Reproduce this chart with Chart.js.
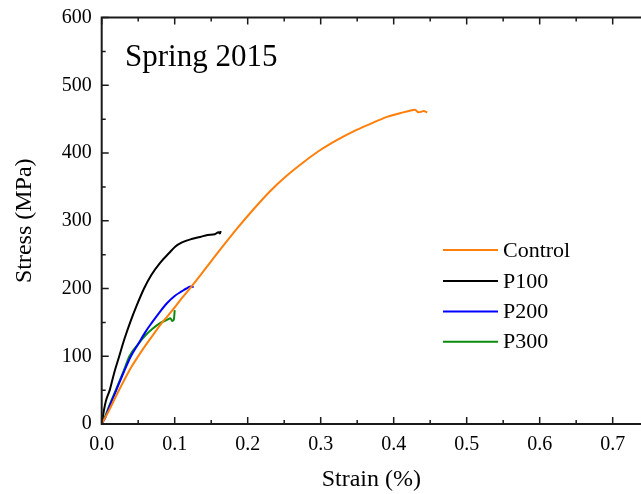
<!DOCTYPE html>
<html><head><meta charset="utf-8">
<script src="https://cdn.jsdelivr.net/npm/chart.js@4/dist/chart.umd.min.js"></script>
<style>html,body{margin:0;padding:0;background:#fff}</style>
</head><body>
<canvas id="c" width="641" height="494"></canvas>
<script>
// ---- data ----
const xTickValues = [0, 0.1, 0.2, 0.3, 0.4, 0.5, 0.6, 0.7];
const xTickLabels = ['0.0', '0.1', '0.2', '0.3', '0.4', '0.5', '0.6', '0.7'];
const yTickValues = [0, 100, 200, 300, 400, 500, 600];
const seriesNames = ['Control', 'P100', 'P200', 'P300'];

const controlStrain = [0, 0.01, 0.02, 0.03, 0.04, 0.05, 0.06, 0.07, 0.08, 0.09, 0.1, 0.11, 0.12, 0.139, 0.162, 0.185, 0.208, 0.231, 0.253, 0.276, 0.299, 0.322, 0.345, 0.368, 0.39, 0.413, 0.425, 0.429, 0.434, 0.438, 0.441, 0.446];
const controlStress = [0, 20, 42, 63, 83, 100, 116, 131, 146, 159, 172, 186, 199, 225, 257, 288, 317, 344, 366, 386, 404, 419, 432, 443, 453, 460, 463, 464, 460, 461, 462, 460];

const p100Strain = [0, 0.003, 0.006, 0.011, 0.017, 0.024, 0.031, 0.039, 0.048, 0.058, 0.068, 0.08, 0.092, 0.101, 0.11, 0.123, 0.135, 0.145, 0.155, 0.16, 0.162, 0.163];
const p100Stress = [0, 20, 35, 50, 75, 100, 125, 150, 175, 200, 220, 238, 252, 262, 268, 273, 276, 279, 280, 283, 281, 285];

const p200Strain = [0, 0.005, 0.01, 0.02, 0.03, 0.04, 0.05, 0.06, 0.069, 0.08, 0.09, 0.1, 0.11, 0.116, 0.122, 0.126];
const p200Stress = [0, 10, 24, 50, 76, 100, 118, 136, 150, 166, 179, 189, 196, 200, 203, 202];

const p300Strain = [0, 0.005, 0.01, 0.02, 0.03, 0.038, 0.05, 0.06, 0.07, 0.08, 0.09, 0.094, 0.097, 0.099, 0.1];
const p300Stress = [0, 12, 26, 52, 78, 100, 118, 131, 141, 149, 154, 156, 152, 155, 168];

const colors = ['#FF7F0A', '#000000', '#0000FF', '#0B8A0B'];

function pts(xs, ys) { return xs.map((x, i) => ({x: x, y: ys[i]})); }

const SERIF = "'Liberation Serif', 'Times New Roman', serif";

const framePlugin = {
  id: 'frame',
  afterDatasetsDraw(chart) {
    const {ctx, chartArea: a, scales: {x, y}} = chart;
    ctx.save();
    ctx.strokeStyle = '#1a1a1a';
    ctx.lineWidth = 1.5;
    ctx.beginPath();
    const majX = xTickValues, majY = yTickValues;
    majX.forEach((v) => {
      const px = x.getPixelForValue(v);
      ctx.moveTo(px, a.bottom); ctx.lineTo(px, a.bottom - 7);
      ctx.moveTo(px, a.top); ctx.lineTo(px, a.top + 7);
      const mpx = x.getPixelForValue(v + (majX[1] - majX[0]) / 2);
      if (mpx < a.right) {
        ctx.moveTo(mpx, a.bottom); ctx.lineTo(mpx, a.bottom - 4);
        ctx.moveTo(mpx, a.top); ctx.lineTo(mpx, a.top + 4);
      }
    });
    majY.forEach((v, i) => {
      const py = y.getPixelForValue(v);
      ctx.moveTo(a.left, py); ctx.lineTo(a.left + 7, py);
      if (i < majY.length - 1) {
        const mpy = y.getPixelForValue(v + (majY[1] - majY[0]) / 2);
        ctx.moveTo(a.left, mpy); ctx.lineTo(a.left + 4, mpy);
      }
    });
    ctx.stroke();
    ctx.lineWidth = 2;
    ctx.beginPath();
    ctx.moveTo(a.right + 2, a.top); ctx.lineTo(a.left, a.top);
    ctx.lineTo(a.left, a.bottom); ctx.lineTo(a.right + 2, a.bottom);
    ctx.stroke();
    ctx.fillStyle = '#000';
    ctx.font = '31px ' + SERIF;
    ctx.textBaseline = 'alphabetic';
    ctx.textAlign = 'left';
    ctx.fillText('Spring 2015', 125, 66);
    ctx.font = '22px ' + SERIF;
    ctx.textBaseline = 'middle';
    const legY = [250, 281, 311.5, 341.7];
    seriesNames.forEach((n, i) => {
      ctx.strokeStyle = colors[i];
      ctx.lineWidth = 2;
      ctx.beginPath();
      ctx.moveTo(443, legY[i]); ctx.lineTo(498, legY[i]);
      ctx.stroke();
      ctx.fillText(n, 503, legY[i] + 1);
    });
    ctx.restore();
  }
};

new Chart(document.getElementById('c'), {
  type: 'scatter',
  data: {
    datasets: [
      {label: seriesNames[0], data: pts(controlStrain, controlStress)},
      {label: seriesNames[1], data: pts(p100Strain, p100Stress)},
      {label: seriesNames[2], data: pts(p200Strain, p200Stress)},
      {label: seriesNames[3], data: pts(p300Strain, p300Stress)}
    ].map((d, i) => Object.assign(d, {
      showLine: true, borderColor: colors[i], backgroundColor: colors[i],
      borderWidth: 2, pointRadius: 0, pointHoverRadius: 0,
      cubicInterpolationMode: 'monotone', fill: false
    }))
  },
  options: {
    responsive: false,
    animation: false,
    events: [],
    layout: {padding: {top: 17.5, right: 0, bottom: 0, left: 0}},
    plugins: {legend: {display: false}, tooltip: {enabled: false}},
    scales: {
      x: {
        type: 'linear', min: 0, max: 0.7388,
        afterBuildTicks(s) { s.ticks = xTickValues.map(v => ({value: v})); },
        afterFit(s) { s.height = 70; s.paddingLeft = 0; s.paddingRight = 0; },
        grid: {display: false, drawTicks: false},
        border: {display: false},
        ticks: {
          color: '#000', padding: 9, maxRotation: 0, autoSkip: false,
          font: {family: SERIF, size: 20},
          callback(v) { const i = xTickValues.findIndex(t => Math.abs(t - v) < 1e-9); return i >= 0 ? xTickLabels[i] : ''; }
        },
        title: {display: true, text: 'Strain (%)', color: '#000',
          font: {family: SERIF, size: 24, lineHeight: 1}, padding: {top: 0, bottom: 2}}
      },
      y: {
        type: 'linear', min: 0, max: 600,
        afterBuildTicks(s) { s.ticks = yTickValues.map(v => ({value: v})); },
        afterFit(s) { s.width = 101.7; s.paddingTop = 0; s.paddingBottom = 0; },
        grid: {display: false, drawTicks: false},
        border: {display: false},
        ticks: {color: '#000', padding: 10, font: {family: SERIF, size: 20}},
        title: {display: true, text: 'Stress (MPa)', color: '#000',
          font: {family: SERIF, size: 24, lineHeight: 1}, padding: {top: 13, bottom: 0}}
      }
    }
  },
  plugins: [framePlugin]
});
</script>
</body></html>
